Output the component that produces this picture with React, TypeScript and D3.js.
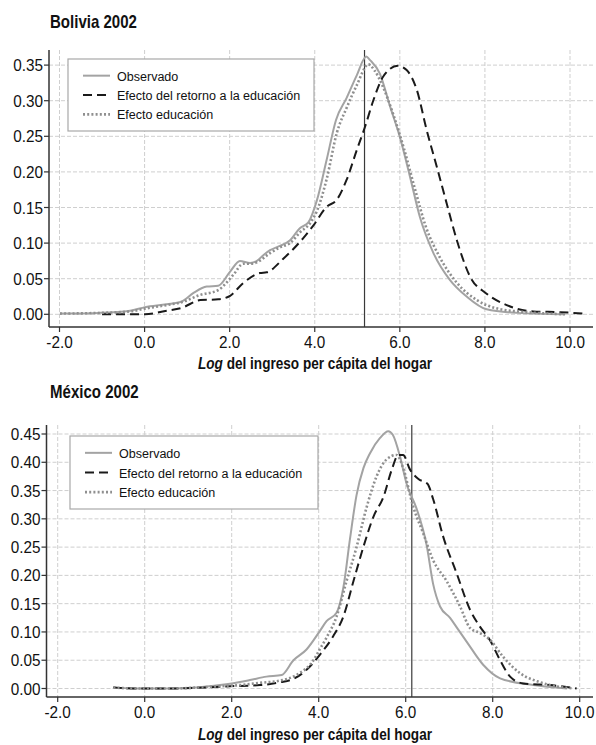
import React from "react";
import * as d3 from "d3";

type Pt = [number, number];

// ---------- Bolivia 2002 ----------
const boliviaObservado: Pt[] = [
  [-1.99, 0.001], [-1.05, 0.002], [-0.34, 0.005], [0.01, 0.01], [0.52, 0.014], [0.87, 0.018],
  [1.15, 0.03], [1.46, 0.039], [1.73, 0.04], [2.01, 0.06], [2.24, 0.075], [2.48, 0.072],
  [2.64, 0.075], [2.79, 0.083], [2.95, 0.09], [3.18, 0.096], [3.42, 0.104], [3.65, 0.121],
  [3.85, 0.129], [4.05, 0.16], [4.28, 0.217], [4.5, 0.273], [4.75, 0.304], [4.99, 0.336],
  [5.21, 0.362], [5.3, 0.357], [5.53, 0.338], [5.77, 0.292], [6.0, 0.249], [6.24, 0.193],
  [6.47, 0.137], [6.79, 0.086], [7.18, 0.048], [7.57, 0.025], [8.04, 0.007], [8.75, 0.002],
  [9.85, 0.0],
];
const boliviaRetorno: Pt[] = [
  [-1.0, 0.0], [-0.34, 0.0], [0.01, 0.0], [0.52, 0.005], [0.87, 0.009], [1.31, 0.02],
  [1.73, 0.021], [2.01, 0.026], [2.32, 0.044], [2.71, 0.058], [2.87, 0.059], [3.26, 0.078],
  [3.73, 0.107], [3.97, 0.125], [4.28, 0.151], [4.52, 0.161], [4.75, 0.189], [4.99, 0.231],
  [5.18, 0.263], [5.38, 0.301], [5.61, 0.334], [5.95, 0.349], [6.16, 0.343], [6.4, 0.315],
  [6.63, 0.259], [6.87, 0.207], [7.1, 0.156], [7.34, 0.104], [7.65, 0.053], [8.04, 0.029],
  [8.51, 0.013], [9.14, 0.004], [9.77, 0.003], [10.31, 0.001],
];
const boliviaEducacion: Pt[] = [
  [-1.99, 0.001], [-1.05, 0.002], [-0.34, 0.004], [0.01, 0.008], [0.52, 0.013], [0.87, 0.017],
  [1.3, 0.027], [1.73, 0.034], [2.08, 0.055], [2.32, 0.071], [2.48, 0.071], [2.64, 0.073],
  [2.95, 0.086], [3.18, 0.094], [3.42, 0.1], [3.65, 0.115], [3.89, 0.128], [4.05, 0.145],
  [4.28, 0.19], [4.52, 0.255], [4.75, 0.29], [4.99, 0.322], [5.26, 0.351], [5.4, 0.343],
  [5.6, 0.32], [5.85, 0.28], [6.1, 0.232], [6.36, 0.175], [6.6, 0.125], [6.94, 0.08],
  [7.33, 0.045], [7.81, 0.02], [8.3, 0.008], [9.0, 0.003], [9.9, 0.0],
];
const boliviaMedia = 5.17;

// ---------- México 2002 ----------
const mexicoObservado: Pt[] = [
  [-0.72, 0.002], [-0.26, 0.0], [0.66, 0.0], [1.27, 0.002], [1.73, 0.006], [2.0, 0.009],
  [2.42, 0.015], [2.8, 0.021], [3.15, 0.024], [3.42, 0.05], [3.72, 0.069], [4.03, 0.102],
  [4.18, 0.119], [4.41, 0.134], [4.57, 0.18], [4.72, 0.265], [4.87, 0.342], [5.03, 0.39],
  [5.18, 0.416], [5.41, 0.443], [5.6, 0.455], [5.7, 0.449], [5.87, 0.41], [6.02, 0.362],
  [6.25, 0.318], [6.48, 0.254], [6.63, 0.185], [6.79, 0.145], [7.02, 0.125], [7.2, 0.105],
  [7.4, 0.083], [7.78, 0.042], [8.17, 0.018], [8.93, 0.006], [9.7, 0.0],
];
const mexicoRetorno: Pt[] = [
  [-0.72, 0.002], [-0.26, 0.0], [0.66, 0.0], [1.96, 0.004], [2.65, 0.006], [3.11, 0.011],
  [3.42, 0.017], [3.72, 0.033], [4.03, 0.06], [4.33, 0.092], [4.57, 0.128], [4.8, 0.19],
  [5.03, 0.251], [5.26, 0.304], [5.49, 0.339], [5.68, 0.387], [5.83, 0.413], [5.94, 0.413],
  [6.1, 0.387], [6.3, 0.37], [6.5, 0.362], [6.63, 0.335], [6.86, 0.269], [7.17, 0.204],
  [7.48, 0.139], [7.71, 0.109], [7.94, 0.085], [8.17, 0.05], [8.4, 0.021], [8.7, 0.009],
  [9.32, 0.006], [9.93, 0.0],
];
const mexicoEducacion: Pt[] = [
  [-0.72, 0.002], [-0.26, 0.0], [0.66, 0.0], [1.27, 0.002], [1.73, 0.004], [2.19, 0.006],
  [2.65, 0.01], [3.11, 0.014], [3.49, 0.024], [3.88, 0.05], [4.03, 0.07], [4.18, 0.09],
  [4.41, 0.127], [4.64, 0.19], [4.87, 0.25], [5.1, 0.32], [5.33, 0.375], [5.56, 0.405],
  [5.79, 0.413], [5.94, 0.39], [6.17, 0.322], [6.4, 0.275], [6.63, 0.227], [6.94, 0.19],
  [7.25, 0.145], [7.48, 0.107], [7.71, 0.098], [7.94, 0.086], [8.24, 0.056], [8.63, 0.027],
  [9.09, 0.011], [9.86, 0.0],
];
const mexicoMedia = 6.14;

// ---------- shared ----------
const xTicks = [-2, 0, 2, 4, 6, 8, 10];
const boliviaYTicks = [0, 0.05, 0.1, 0.15, 0.2, 0.25, 0.3, 0.35];
const mexicoYTicks = [0, 0.05, 0.1, 0.15, 0.2, 0.25, 0.3, 0.35, 0.4, 0.45];
const legendLabels = ["Observado", "Efecto del retorno a la educación", "Efecto educación"];

const FONT = "'Liberation Sans', Arial, 'Noto Sans', sans-serif";

const seriesStyle = [
  { stroke: "#a3a3a3", width: 2, dash: undefined as string | undefined },
  { stroke: "#1a1a1a", width: 2, dash: "9,5" },
  { stroke: "#8f8f8f", width: 2.6, dash: "2,2.2" },
];

function T(props: {
  x: number; y: number; size: number; sx: number; anchor?: string; bold?: boolean;
  children: React.ReactNode;
}) {
  return (
    <text
      transform={`translate(${props.x},${props.y}) scale(${props.sx},1)`}
      textAnchor={props.anchor || "start"}
      fontFamily={FONT}
      fontSize={props.size}
      fontWeight={props.bold ? "bold" : "normal"}
      fill="#111"
    >
      {props.children}
    </text>
  );
}

interface PanelProps {
  title: string;
  titleY: number;
  series: Pt[][];
  media: number;
  yTicks: number[];
  frame: { left: number; right: number; top: number; bottom: number };
  xRange: [number, number];
  yRange: [number, number];
  yMax: number;
  legend: { x: number; y: number; w: number; h: number };
  axisTitleY: number;
}

function Panel(p: PanelProps) {
  const { frame } = p;
  const x = d3.scaleLinear().domain([-2, 10]).range(p.xRange);
  const y = d3.scaleLinear().domain([0, p.yMax]).range(p.yRange);
  const line = d3
    .line<Pt>()
    .x((d) => x(d[0]))
    .y((d) => y(d[1]))
    .curve(d3.curveMonotoneX);
  const rowH = (p.legend.h - 14) / 3;
  return (
    <g>
      <T x={50} y={p.titleY} size={17.5} sx={0.86} bold>{p.title}</T>
      {/* grid */}
      {p.yTicks.map((t) => (
        <line key={"gy" + t} x1={frame.left} x2={frame.right} y1={y(t)} y2={y(t)}
          stroke="#cfcfcf" strokeWidth={1} strokeDasharray="4,2" />
      ))}
      {xTicks.map((t) => (
        <line key={"gx" + t} x1={x(t)} x2={x(t)} y1={frame.top} y2={frame.bottom}
          stroke="#cfcfcf" strokeWidth={1} strokeDasharray="4,2" />
      ))}
      {/* vertical mean line */}
      <line x1={x(p.media)} x2={x(p.media)} y1={frame.top} y2={frame.bottom} stroke="#3a3a3a" strokeWidth={1.2} />
      {/* curves */}
      {p.series.map((s, i) => (
        <path key={"s" + i} d={line(s) || ""} fill="none" stroke={seriesStyle[i].stroke}
          strokeWidth={seriesStyle[i].width} strokeDasharray={seriesStyle[i].dash} strokeLinejoin="round" />
      ))}
      {/* axes */}
      <line x1={frame.left} x2={frame.left} y1={frame.top} y2={frame.bottom} stroke="#333" strokeWidth={1.5} />
      <line x1={frame.left} x2={frame.right} y1={frame.bottom} y2={frame.bottom} stroke="#333" strokeWidth={1.5} />
      {p.yTicks.map((t) => (
        <g key={"ty" + t}>
          <line x1={frame.left - 5} x2={frame.left} y1={y(t)} y2={y(t)} stroke="#333" strokeWidth={1.2} />
          <T x={frame.left - 6} y={y(t) + 6} size={17} sx={0.9} anchor="end">{t.toFixed(2)}</T>
        </g>
      ))}
      {xTicks.map((t) => (
        <g key={"tx" + t}>
          <line x1={x(t)} x2={x(t)} y1={frame.bottom} y2={frame.bottom + 5} stroke="#333" strokeWidth={1.2} />
          <T x={x(t)} y={frame.bottom + 21} size={17} sx={0.9} anchor="middle">{t.toFixed(1)}</T>
        </g>
      ))}
      <T x={315} y={p.axisTitleY} size={16} sx={0.85} anchor="middle" bold>
        <tspan fontStyle="italic">Log</tspan> del ingreso per cápita del hogar
      </T>
      {/* legend */}
      <rect x={p.legend.x} y={p.legend.y} width={p.legend.w} height={p.legend.h} fill="#fff" stroke="#a8a8a8" strokeWidth={1.2} />
      {legendLabels.map((lab, i) => {
        const ly = p.legend.y + 7 + rowH * (i + 0.5);
        return (
          <g key={"lg" + i}>
            <line x1={p.legend.x + 15} x2={p.legend.x + 42} y1={ly} y2={ly} stroke={seriesStyle[i].stroke}
              strokeWidth={seriesStyle[i].width} strokeDasharray={seriesStyle[i].dash} />
            <T x={p.legend.x + 49} y={ly + 5} size={13.5} sx={0.93}>{lab}</T>
          </g>
        );
      })}
    </g>
  );
}

export default function App() {
  return (
    <svg width={596} height={745} style={{ position: "absolute", left: 0, top: 0, background: "#fff" }}>
      <rect width={596} height={745} fill="#fff" />
      <Panel
        title="Bolivia 2002"
        titleY={28}
        series={[boliviaObservado, boliviaRetorno, boliviaEducacion]}
        media={boliviaMedia}
        yTicks={boliviaYTicks}
        frame={{ left: 49, right: 593, top: 50, bottom: 327 }}
        xRange={[59.5, 570]}
        yRange={[314.3, 65.1]}
        yMax={0.35}
        legend={{ x: 68, y: 59, w: 246, h: 72 }}
        axisTitleY={369}
      />
      <Panel
        title="México 2002"
        titleY={398}
        series={[mexicoObservado, mexicoRetorno, mexicoEducacion]}
        media={mexicoMedia}
        yTicks={mexicoYTicks}
        frame={{ left: 46.5, right: 593, top: 425, bottom: 697 }}
        xRange={[57.7, 579.7]}
        yRange={[688.5, 434]}
        yMax={0.45}
        legend={{ x: 70, y: 436, w: 248, h: 73 }}
        axisTitleY={740}
      />
    </svg>
  );
}
